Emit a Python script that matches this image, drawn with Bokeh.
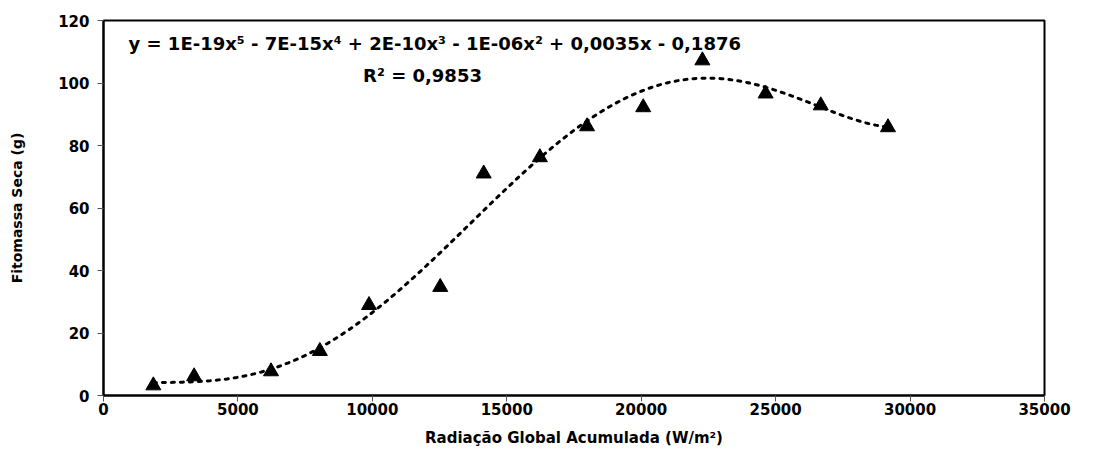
import numpy as np
from bokeh.plotting import figure
from bokeh.models import Range1d, FixedTicker, Label
from bokeh.embed import file_html
from bokeh.resources import INLINE

# ---- data ----
radiacao = [1855, 3370, 6231, 8047, 9876, 12525, 14142, 16231, 17985, 20075, 22276, 24627, 26679, 29179]
fitomassa = [3.2, 6.1, 7.7, 14.2, 28.9, 34.7, 71.0, 76.2, 86.1, 92.2, 107.2, 96.6, 92.8, 85.8]
x_ticks = [0, 5000, 10000, 15000, 20000, 25000, 30000, 35000]
y_ticks = [0, 20, 40, 60, 80, 100, 120]
equacao = "y = 1E-19x\u2075 - 7E-15x\u2074 + 2E-10x\u00b3 - 1E-06x\u00b2 + 0,0035x - 0,1876"
r2_texto = "R\u00b2 = 0,9853"
x_titulo = "Radiação Global Acumulada (W/m²)"
y_titulo = "Fitomassa Seca (g)"

FONT = "DejaVu Sans"

p = figure(width=1085, height=449, output_backend="svg", toolbar_location=None,
           x_range=Range1d(0, 35000), y_range=Range1d(0, 120),
           min_border_left=103, min_border_right=41, min_border_top=20, min_border_bottom=54)
p.background_fill_color = "white"
p.border_fill_color = "white"
p.outline_line_color = "black"
p.outline_line_width = 2
p.xgrid.visible = False
p.ygrid.visible = False

for ax in (p.xaxis, p.yaxis):
    ax.axis_line_color = "black"
    ax.axis_line_width = 2
    ax.major_tick_in = 0
    ax.major_tick_out = 6
    ax.major_tick_line_color = "#555555"
    ax.minor_tick_line_color = None
    ax.major_label_text_font = FONT
    ax.major_label_text_font_style = "bold"
    ax.major_label_text_font_size = "15px"
    ax.major_label_text_color = "black"
    ax.axis_label_text_font = FONT
    ax.axis_label_text_font_style = "bold"
    ax.axis_label_text_color = "black"

p.xaxis.ticker = FixedTicker(ticks=x_ticks)
p.yaxis.ticker = FixedTicker(ticks=y_ticks)
p.xaxis.major_label_standoff = 1
p.yaxis.major_label_standoff = 8

p.yaxis.axis_label = y_titulo
p.yaxis.axis_label_text_font_size = "14px"
p.yaxis.axis_label_standoff = 30

p.xaxis.axis_label = x_titulo
p.xaxis.axis_label_text_font_size = "15px"
p.xaxis.axis_label_standoff = 11

# trendline: 5th-degree polynomial fitted to the data
coefs = np.polyfit(np.array(radiacao, float), np.array(fitomassa, float), 5)
xs = np.linspace(min(radiacao), max(radiacao), 300)
ys = np.polyval(coefs, xs)
p.line(xs, ys, line_color="black", line_width=3, line_dash="3 6", line_cap="round")

p.scatter(radiacao, fitomassa, marker="triangle", size=15, fill_color="black", line_color="black")

p.add_layout(Label(x=930, y=112.5, text=equacao, text_font=FONT, text_font_style="bold",
                   text_color="black", text_font_size="18px", text_baseline="middle", text_align="left"))
p.add_layout(Label(x=11866, y=102.5, text=r2_texto, text_font=FONT, text_font_style="bold",
                   text_color="black", text_font_size="18px", text_baseline="middle", text_align="center"))

open("out.html", "w").write(file_html(p, INLINE))
